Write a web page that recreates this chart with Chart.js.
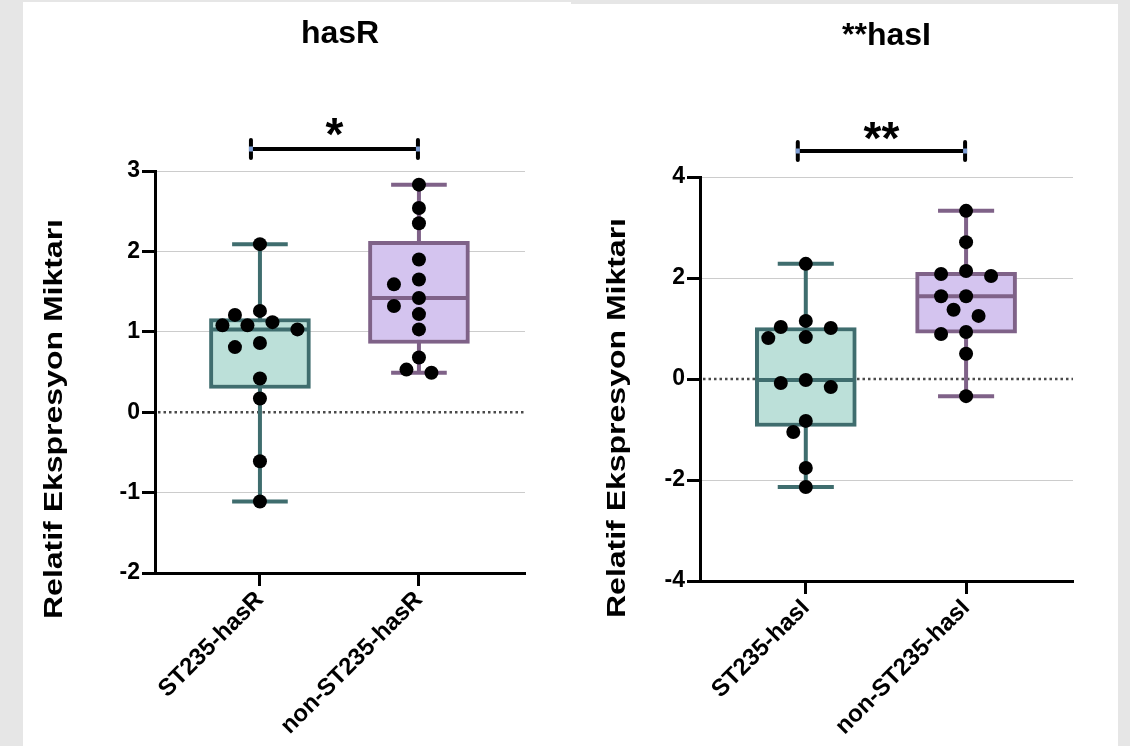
<!DOCTYPE html>
<html>
<head>
<meta charset="utf-8">
<script src="https://cdn.jsdelivr.net/npm/chart.js@4.4.1/dist/chart.umd.min.js"></script>
<style>
  html, body { margin: 0; padding: 0; }
  body { width: 1130px; height: 746px; background: #e6e6e6; position: relative; overflow: hidden; }
  .panel { position: absolute; background: #fff; }
  #panelR { left: 23px; top: 2px; width: 548px; height: 744px; }
  #panelI { left: 571px; top: 4px; width: 547px; height: 742px; }
  canvas { display: block; }
</style>
</head>
<body>
<div class="panel" id="panelR"><canvas id="chartHasR" width="548" height="744"></canvas></div>
<div class="panel" id="panelI"><canvas id="chartHasI" width="547" height="742"></canvas></div>
<script>
const hasRCategories = ['ST235-hasR', 'non-ST235-hasR'];
const hasRST235 = [2.09, 1.26, 1.21, 1.12, 1.08, 1.08, 1.03, 0.86, 0.81, 0.42, 0.17, -0.61, -1.11];
const hasRNonST235 = [2.83, 2.54, 2.35, 1.90, 1.65, 1.59, 1.42, 1.32, 1.22, 1.03, 0.68, 0.53, 0.49];
const hasRTicks = [-2, -1, 0, 1, 2, 3];

const hasICategories = ['ST235-hasI', 'non-ST235-hasI'];
const hasIST235 = [2.28, 1.15, 1.03, 1.01, 0.83, 0.81, -0.02, -0.08, -0.16, -0.83, -1.05, -1.76, -2.14];
const hasINonST235 = [3.33, 2.71, 2.14, 2.08, 2.04, 1.64, 1.64, 1.37, 1.25, 0.93, 0.89, 0.50, -0.34];
const hasITicks = [-4, -2, 0, 2, 4];

const FONT = "'Liberation Sans', Arial, Helvetica, sans-serif";
const TEAL = {fill: '#bce0d9', line: '#3f6d6e'};
const PURPLE = {fill: '#d4c4ef', line: '#7f6288'};
const CAP = 0.175;
const BOX = 0.3;
const SLOT = 12.5;
const MIN_GAP = 15;

Chart.defaults.font.family = FONT;
Chart.defaults.color = '#000';

// quartiles the way Prism does it: (n+1) positions
const quantile = (sorted, p) => {
    const pos = (sorted.length + 1) * p;
    const lo = Math.floor(pos);
    if (lo < 1) return sorted[0];
    if (lo >= sorted.length) return sorted[sorted.length - 1];
    return sorted[lo - 1] + (pos - lo) * (sorted[lo] - sorted[lo - 1]);
}

const boxStats = values => {
    const s = [...values].sort((a, b) => a - b);
    return {min: s[0], q1: quantile(s, 0.25), med: quantile(s, 0.5), q3: quantile(s, 0.75), max: s[s.length - 1]};
}

const seg = (xs, ys, color, order) => ({
    type: 'line',
    data: [{x: xs[0], y: ys[0]}, {x: xs[1], y: ys[1]}],
    borderColor: color,
    borderWidth: 4,
    pointRadius: 0,
    order: order
});

const extrasPlugin = {
    id: 'extras',
    beforeDatasetsDraw(chart) {
        const {ctx, chartArea, scales: {y}} = chart;
        const py = y.getPixelForValue(0);
        ctx.save();
        ctx.strokeStyle = '#4a4a4a';
        ctx.lineWidth = 2.5;
        ctx.setLineDash([2.5, 3]);
        ctx.beginPath();
        ctx.moveTo(chartArea.left + 3, py);
        ctx.lineTo(chartArea.right, py);
        ctx.stroke();
        ctx.restore();
    },
    afterDraw(chart, args, opts) {
        const {ctx, chartArea, scales: {x}} = chart;
        ctx.save();
        // y axis title
        ctx.font = 'bold 26px ' + FONT;
        const w = ctx.measureText(opts.axisTitle).width;
        ctx.translate(opts.titleX, opts.titleY);
        ctx.rotate(-Math.PI / 2);
        ctx.scale(opts.titleLength / w, 1);
        ctx.textAlign = 'center';
        ctx.textBaseline = 'middle';
        ctx.fillStyle = '#000';
        ctx.fillText(opts.axisTitle, 0, 0);
        ctx.restore();

        // significance bracket
        const x0 = x.getPixelForValue(0) + opts.shiftLeft;
        const x1 = x.getPixelForValue(1) - 1;
        const yb = chartArea.top - opts.bracketGap;
        ctx.save();
        ctx.strokeStyle = '#000';
        ctx.lineWidth = 4;
        ctx.beginPath();
        ctx.moveTo(x0, yb);
        ctx.lineTo(x1, yb);
        ctx.stroke();
        ctx.lineCap = 'round';
        [x0, x1].forEach(px => {
            ctx.beginPath();
            ctx.moveTo(px, yb - 9);
            ctx.lineTo(px, yb + 9);
            ctx.stroke();
        });
        ctx.fillStyle = '#7f9fd6';
        [x0, x1].forEach(px => ctx.fillRect(px - 2, yb - 2.5, 4, 5));
        ctx.fillStyle = '#000';
        ctx.font = 'bold 46px ' + FONT;
        ctx.textAlign = 'center';
        ctx.textBaseline = 'alphabetic';
        ctx.fillText(opts.stars, (x0 + x1) / 2, chartArea.top - opts.starGap + 24);
        ctx.restore();
    }
};

// spread the dots sideways so they do not overlap (beeswarm)
const swarm = chart => {
    const xs = chart.scales.x, ys = chart.scales.y;
    const unit = xs.getPixelForValue(1) - xs.getPixelForValue(0);
    chart.data.datasets.filter(d => d.values).forEach(ds => {
        const placed = [];
        const idx = ds.values.map((v, k) => k).sort((a, b) => ds.values[b] - ds.values[a]);
        idx.forEach(k => {
            const py = ys.getPixelForValue(ds.values[k]);
            let best = 0;
            for (let step = 0; step < 30; step++) {
                const cands = step === 0 ? [0] : [-step * SLOT, step * SLOT];
                const ok = cands.find(c => placed.every(p => Math.hypot(p.x - c, p.y - py) >= MIN_GAP));
                if (ok !== undefined) {
                    best = ok;
                    break;
                }
            }
            placed.push({x: best, y: py});
            ds.data[k] = {x: ds.group + best / unit, y: ds.values[k]};
        });
    });
    chart.update('none');
}

const makeChart = (id, cfg) => {
    const groups = [cfg.st235, cfg.nonSt235];
    const colors = [TEAL, PURPLE];
    const stats = groups.map(boxStats);
    const datasets = [];

    datasets.push({
        type: 'bar',
        data: stats.map((s, i) => ({x: i, y: [s.q1, s.q3]})),
        backgroundColor: colors.map(c => c.fill),
        borderColor: colors.map(c => c.line),
        borderWidth: 4,
        borderSkipped: false,
        barThickness: 101,
        order: 3
    });
    stats.forEach((s, i) => {
        const c = colors[i].line;
        datasets.push(seg([i, i], [s.min, s.max], c, 4));
        datasets.push(seg([i - CAP, i + CAP], [s.min, s.min], c, 2));
        datasets.push(seg([i - CAP, i + CAP], [s.max, s.max], c, 2));
        datasets.push(seg([i - BOX, i + BOX], [s.med, s.med], c, 1));
    });
    groups.forEach((vals, i) => datasets.push({
        type: 'scatter',
        values: vals,
        group: i,
        data: vals.map(v => ({x: i, y: v})),
        pointRadius: 7,
        pointBackgroundColor: '#000',
        pointBorderWidth: 0,
        order: 0
    }));

    const chart = new Chart(document.getElementById(id), {
        type: 'scatter',
        data: {datasets: datasets},
        plugins: [extrasPlugin],
        options: {
            responsive: false,
            animation: false,
            devicePixelRatio: 1,
            events: [],
            layout: {padding: {left: 0, right: cfg.padRight, top: 0, bottom: 0}},
            plugins: {
                legend: {display: false},
                tooltip: {enabled: false},
                title: {
                    display: true,
                    text: cfg.title,
                    fullSize: false,
                    color: '#000',
                    font: {size: 32, weight: 'bold'},
                    padding: {top: 13, bottom: cfg.plotTop - 13 - 38.4}
                },
                extras: cfg.extras
            },
            scales: {
                x: {
                    type: 'linear',
                    offset: false,
                    min: -0.66,
                    max: 1.667,
                    afterBuildTicks: s => { s.ticks = cfg.categories.map((c, i) => ({value: i})); },
                    afterFit: s => { s.height = cfg.xHeight; },
                    ticks: {
                        callback: v => cfg.categories[v],
                        font: {size: 24, weight: 'bold'},
                        color: '#000',
                        minRotation: 45,
                        maxRotation: 45,
                        autoSkip: false,
                        padding: 0
                    },
                    grid: {offset: false, drawOnChartArea: false, tickColor: '#000', tickWidth: 3, tickLength: 13},
                    border: {color: '#000', width: 3}
                },
                y: {
                    type: 'linear',
                    min: cfg.ticks[0],
                    max: cfg.ticks[cfg.ticks.length - 1],
                    afterBuildTicks: s => { s.ticks = cfg.ticks.map(v => ({value: v})); },
                    afterFit: s => { s.width = cfg.yWidth; },
                    ticks: {font: {size: 23, weight: 'bold'}, color: '#000', padding: 2},
                    grid: {
                        color: c => (c.tick && c.tick.value === 0) ? 'rgba(0,0,0,0)' : '#cccccc',
                        lineWidth: 1,
                        tickColor: '#000',
                        tickWidth: 3,
                        tickLength: 13
                    },
                    border: {color: '#000', width: 3}
                }
            }
        }
    });
    swarm(chart);
    return chart;
}

makeChart('chartHasR', {
    title: 'hasR',
    categories: hasRCategories,
    st235: hasRST235,
    nonSt235: hasRNonST235,
    ticks: hasRTicks,
    plotTop: 169,
    xHeight: 173,
    yWidth: 132,
    padRight: 46,
    extras: {axisTitle: 'Relatif Ekspresyon Miktarı', titleX: 32, titleY: 417, titleLength: 400, shiftLeft: -9, bracketGap: 22, starGap: 45, stars: '*'}
});

makeChart('chartHasI', {
    title: '**hasI',
    categories: hasICategories,
    st235: hasIST235,
    nonSt235: hasINonST235,
    ticks: hasITicks,
    plotTop: 173,
    xHeight: 165,
    yWidth: 129,
    padRight: 45,
    extras: {axisTitle: 'Relatif Ekspresyon Miktarı', titleX: 47, titleY: 414, titleLength: 400, shiftLeft: -8, bracketGap: 26, starGap: 47, stars: '**'}
});
</script>
</body>
</html>
